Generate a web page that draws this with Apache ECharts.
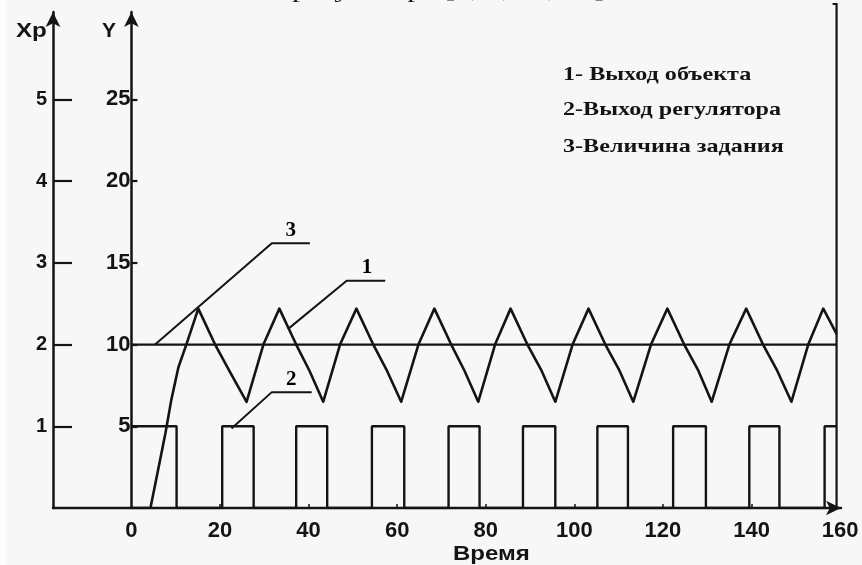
<!DOCTYPE html>
<html>
<head>
<meta charset="utf-8">
<script src="https://cdn.jsdelivr.net/npm/echarts@6/dist/echarts.min.js"></script>
<style>
  html, body { margin: 0; padding: 0; background: #f7f7f7; }
  #chart { width: 862px; height: 565px; }
</style>
</head>
<body>
<div id="chart"></div>
<script>
// Tick labels
const timeTicks = [0, 20, 40, 60, 80, 100, 120, 140, 160];
const timeMinorTicks = [20, 40, 60, 80, 100, 120, 140];
const yTicks = [5, 10, 15, 20, 25];
const xpTicks = [1, 2, 3, 4, 5];

// 1 - object output Y(t)
const objectOutput = [
  [0, 0], [4.3, 0], [6.0, 2.3], [7.7, 4.6], [9.0, 6.6], [10.6, 8.6], [12.4, 10.0], [15.1, 12.2],
  [18.9, 10.0], [22.3, 8.3], [26.0, 6.5], [29.8, 10.0], [33.4, 12.2],
  [37.2, 10.0], [40.2, 8.4], [43.3, 6.5], [47.1, 10.0], [50.8, 12.2],
  [54.6, 10.0], [57.7, 8.4], [60.9, 6.5], [64.8, 10.0], [68.4, 12.2],
  [72.2, 10.0], [75.2, 8.4], [78.3, 6.5], [82.1, 10.0], [85.6, 12.2],
  [89.4, 10.0], [92.6, 8.4], [95.7, 6.5], [99.6, 10.0], [103.2, 12.2],
  [107.0, 10.0], [110.2, 8.4], [113.3, 6.5], [117.3, 10.0], [121.0, 12.2],
  [124.8, 10.0], [128.0, 8.4], [131.0, 6.5], [135.0, 10.0], [138.8, 12.2],
  [142.6, 10.0], [145.8, 8.4], [149.0, 6.5], [152.8, 10.0], [156.2, 12.2],
  [159.2, 10.65]
];

// 2 - regulator output Xp: switching-on and switching-off moments
const regulatorOn  = [0,    20.5, 37.2, 54.3, 71.6, 88.4, 105.2, 122.3, 139.5, 156.5];
const regulatorOff = [10.2, 27.6, 44.2, 61.6, 78.6, 95.7, 112.1, 129.7, 146.3, 159.2];
const regulatorHigh = 1;

// 3 - set point
const setpointValue = 10;
const timeEnd = 159.2;

// Callout leaders (time, Y) and their numbers
const callout3 = [[5.35, 10.0], [31.7, 16.2], [40.3, 16.2]];
const callout1 = [[35.4, 10.96], [48.6, 13.9], [57.3, 13.9]];
const callout2 = [[22.6, 4.86], [31.7, 7.09], [40.7, 7.09]];
const calloutNumbers = [
  { name: '3', value: [36.0, 17.0] },
  { name: '1', value: [53.2, 14.7] },
  { name: '2', value: [36.1, 7.85] }
];

const legendLines = ['1- Выход объекта', '2-Выход регулятора', '3-Величина задания'];
const axisTitles = { xp: 'Xp', y: 'Y', time: 'Время' };
const headerFragment = 'регулятора [1, 3, 11, 15].';

// Build the on/off staircase of the regulator from the switching moments
const regulatorOutput = [];
regulatorOn.forEach((on, i) => {
  const off = regulatorOff[i];
  if (on > 0) regulatorOutput.push([on, 0]);
  regulatorOutput.push([on, regulatorHigh], [off, regulatorHigh]);
  if (off < timeEnd) regulatorOutput.push([off, 0]);
});
const setpoint = [[0, setpointValue], [timeEnd, setpointValue]];

const INK = '#141414';
const X_MIN = -17.7, X_MAX = 160.2;
const GRID_LEFT = 53, GRID_RIGHT = 21;
const plotWidth = 862 - GRID_LEFT - GRID_RIGHT;
// the Y axis stands at time 0, inside the plot
const yAxisShift = (0 - X_MIN) / (X_MAX - X_MIN) * plotWidth;

const chart = echarts.init(document.getElementById('chart'), null, { renderer: 'canvas' });

const leader = (data) => ({
  type: 'line', data, yAxisIndex: 1, symbol: 'none', silent: true,
  lineStyle: { color: INK, width: 2 }, z: 3
});

chart.setOption({
  animation: false,
  backgroundColor: '#f7f7f7',
  grid: { left: GRID_LEFT, right: GRID_RIGHT, top: 12, bottom: 57, containLabel: false },
  xAxis: {
    type: 'value', min: X_MIN, max: X_MAX,
    axisLine: { onZero: false, symbol: ['none', 'arrow'], symbolSize: [11, 15], lineStyle: { color: INK, width: 2.4 } },
    axisTick: { show: true, inside: true, length: 4, customValues: timeMinorTicks, lineStyle: { color: INK, width: 1.5 } },
    axisLabel: {
      customValues: timeTicks, margin: 12, color: INK,
      fontFamily: 'Liberation Sans', fontWeight: 'bold', fontSize: 22
    },
    splitLine: { show: false }
  },
  yAxis: [
    { // Xp
      type: 'value', position: 'left', min: 0, max: 6.07,
      axisLine: { show: true, onZero: false, symbol: ['none', 'arrow'], symbolSize: [11, 15], lineStyle: { color: INK, width: 2.5 } },
      axisTick: { show: true, inside: true, length: 19, customValues: xpTicks, lineStyle: { color: INK, width: 2.2 } },
      axisLabel: { customValues: xpTicks, margin: 6, color: INK, fontFamily: 'Liberation Sans', fontWeight: 'bold', fontSize: 20 },
      splitLine: { show: false }
    },
    { // Y
      type: 'value', position: 'left', min: 0, max: 30.35, offset: -yAxisShift,
      axisLine: { show: true, onZero: false, symbol: ['none', 'arrow'], symbolSize: [11, 15], lineStyle: { color: INK, width: 2.5 } },
      axisTick: { show: true, inside: true, length: 6, customValues: yTicks, lineStyle: { color: INK, width: 2.2 } },
      axisLabel: { customValues: yTicks, margin: 1, color: INK, fontFamily: 'Liberation Sans', fontWeight: 'bold', fontSize: 22 },
      splitLine: { show: false }
    }
  ],
  series: [
    {
      name: '1', type: 'line', data: objectOutput, yAxisIndex: 1, symbol: 'none',
      lineStyle: { color: INK, width: 2.6, join: 'round' }, z: 4
    },
    {
      name: '2', type: 'line', data: regulatorOutput, yAxisIndex: 0, symbol: 'none',
      lineStyle: { color: INK, width: 2.4 }, z: 4
    },
    {
      name: '3', type: 'line', data: setpoint, yAxisIndex: 1, symbol: 'none',
      lineStyle: { color: INK, width: 2.2 }, z: 4
    },
    leader(callout3), leader(callout1), leader(callout2),
    {
      type: 'scatter', yAxisIndex: 1, data: calloutNumbers, symbolSize: 0, silent: true,
      itemStyle: { color: INK, opacity: 1 },
      label: {
        show: true, position: 'inside', formatter: '{b}', color: '#000', opacity: 1,
        fontFamily: 'Liberation Serif', fontWeight: 'bold', fontSize: 21
      }
    }
  ]
});

// Frame line on the right edge of the time range, with the small hook at its top
const frameX = chart.convertToPixel({ xAxisIndex: 0 }, timeEnd);
const baseY = chart.convertToPixel({ yAxisIndex: 1 }, 0);

chart.setOption({
  graphic: [
    { type: 'rect', shape: { x: 0, y: 0, width: 7, height: 565 }, style: { fill: '#fdfdfd' }, silent: true, z: -1 },
    {
      type: 'polyline', silent: true, z: 5,
      shape: { points: [[frameX - 4, 4], [frameX, 4], [frameX, baseY]] },
      style: { stroke: INK, lineWidth: 2.2, fill: null }
    },
    {
      type: 'text', x: 292, y: 2, silent: true, scaleX: 1.42,
      style: { text: headerFragment, font: '22px "Liberation Serif"', fill: INK, verticalAlign: 'bottom' }
    },
    {
      type: 'text', x: 16, y: 31, silent: true, scaleX: 1.15,
      style: { text: axisTitles.xp, font: 'bold 21px "Liberation Sans"', fill: INK, verticalAlign: 'middle' }
    },
    {
      type: 'text', x: 102, y: 31, silent: true,
      style: { text: axisTitles.y, font: 'bold 21px "Liberation Sans"', fill: INK, verticalAlign: 'middle' }
    },
    {
      type: 'text', x: 453, y: 554, silent: true, scaleX: 1.2,
      style: { text: axisTitles.time, font: 'bold 20px "Liberation Sans"', fill: INK, verticalAlign: 'middle' }
    },
    ...legendLines.map((t, i) => ({
      type: 'text', x: 563, y: [75, 110, 147][i], silent: true, scaleX: 1.27,
      style: { text: t, font: 'bold 19px "Liberation Serif"', fill: INK, verticalAlign: 'middle' }
    }))
  ]
});
</script>
</body>
</html>
